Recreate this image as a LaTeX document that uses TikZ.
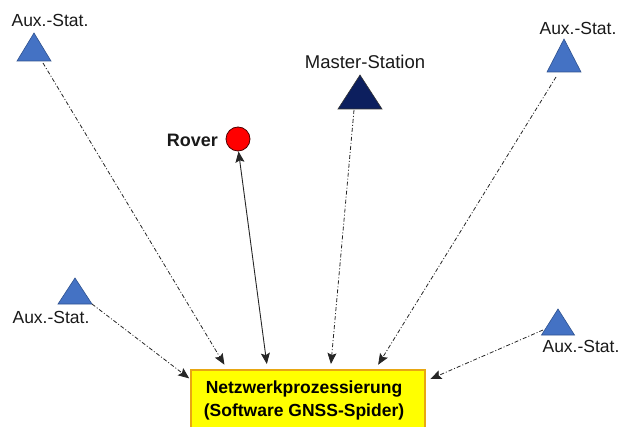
\documentclass[tikz,border=0pt]{standalone}
\usepackage{fontspec}
\setmainfont{Liberation Sans}
\usetikzlibrary{arrows.meta,calc}

\definecolor{auxblue}{HTML}{4472C4}
\definecolor{auxedge}{HTML}{2F528F}
\definecolor{mastnavy}{HTML}{0C1F5E}
\definecolor{roverred}{HTML}{FF0000}
\definecolor{boxyellow}{HTML}{FFFF00}
\definecolor{boxedge}{HTML}{E8A712}
\definecolor{linkgray}{HTML}{262626}

% one triangular station: name, apex x, apex y, base y, half base width, style
\newcommand\stationtri[6]{%
  \filldraw[#6] (#2-#5,#4) -- (#2,#3) -- (#2+#5,#4) -- cycle;}

\tikzset{
  auxtri/.style={fill=auxblue,draw=auxedge,line width=0.6pt,line join=miter},
  mastertri/.style={fill=mastnavy,draw=black!80,line width=0.6pt},
  lbl/.style={font=\fontsize{17.5}{20}\selectfont,text=black!90,inner sep=0pt},
  masterlbl/.style={font=\fontsize{18.5}{21}\selectfont,text=black!90,inner sep=0pt},
  roverlbl/.style={font=\bfseries\fontsize{18}{21}\selectfont,text=black!90,inner sep=0pt},
  roverdot/.style={circle,fill=roverred,draw=black!70!red,line width=0.8pt,
                   minimum size=24pt,inner sep=0pt},
  procbox/.style={rectangle,fill=boxyellow,draw=boxedge,line width=1.8pt,
                  minimum width=234pt,minimum height=66pt,anchor=north west,inner sep=0pt},
  aux link/.style={linkgray,line width=0.8pt,
                   dash pattern=on 4pt off 2pt on 1pt off 2pt,
                   -{Stealth[length=11pt,width=9pt,inset=2pt]},shorten >=5pt},
  rover link/.style={linkgray,line width=0.9pt,
                   {Stealth[length=11pt,width=9pt,inset=2pt]}-{Stealth[length=11pt,width=9pt,inset=2pt]},
                   shorten >=5pt},
}

\begin{document}
\begin{tikzpicture}[x=1pt,y=-1pt]
  \useasboundingbox (0,0) rectangle (620,427);
  \begin{scope}
    \clip (0,0) rectangle (620,427);

    % processing centre
    \node[procbox] (box) at (190,369) {};
    \node[font=\bfseries\fontsize{17.5}{23}\selectfont,align=center,inner sep=0pt,
          text=black] (boxtext) at (304,400)
          {Netzwerkprozessierung\\(Software GNSS-Spider)};

    % stations
    \stationtri{tl}{34}{33}{61}{17}{auxtri}
    \stationtri{tr}{564}{39}{72}{17}{auxtri}
    \stationtri{ml}{75}{278}{304}{17}{auxtri}
    \stationtri{mr}{558}{309}{335}{16.5}{auxtri}
    \stationtri{ms}{360}{75}{109}{22}{mastertri}

    \node[lbl] (tllbl) at (50,20) {Aux.-Stat.};
    \node[lbl] (trlbl) at (578,28) {Aux.-Stat.};
    \node[lbl] (mllbl) at (51,317) {Aux.-Stat.};
    \node[lbl] (mrlbl) at (581,346) {Aux.-Stat.};
    \node[masterlbl] (mslbl) at (365,62) {Master-Station};

    % rover
    \node[roverdot] (rover) at (238,139) {};
    \node[roverlbl,anchor=east] (roverlbl) at (218,140) {Rover};

    % link start points on the stations
    \coordinate (tl out) at (43,63);
    \coordinate (tr out) at (556,77);
    \coordinate (ml out) at (92,304);
    \coordinate (mr out) at (543,330);
    \coordinate (ms out) at (354,110);

    % link end points on the processing box
    \coordinate (in tl) at ($(box.north west)+(37,0)$);
    \coordinate (in rv) at ($(box.north west)+(77.5,0)$);
    \coordinate (in ms) at ($(box.north west)+(140.5,0)$);
    \coordinate (in tr) at ($(box.north west)+(185.5,0)$);
    \coordinate (in ml) at ($(box.north west)+(0,10)$);
    \coordinate (in mr) at ($(box.north east)+(0,12)$);

    % links
    \draw[aux link] (tl out) -- (in tl);
    \draw[aux link] (ms out) -- (in ms);
    \draw[aux link] (tr out) -- (in tr);
    \draw[aux link,shorten >=1pt] (ml out) -- (in ml);
    \draw[aux link] (mr out) -- (in mr);
    \coordinate (rv out) at ($(rover.south)+(0.5,0)$);
    \draw[rover link] (rv out) -- (in rv);
  \end{scope}
\end{tikzpicture}
\end{document}
